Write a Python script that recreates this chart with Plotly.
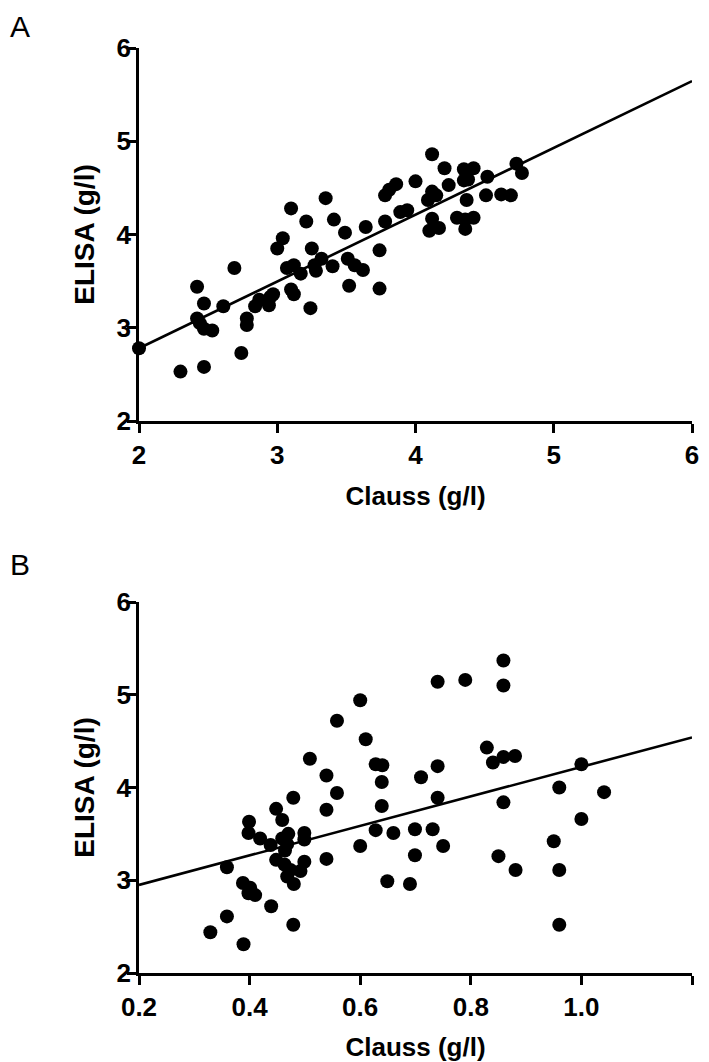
import plotly.graph_objects as go

# Panel A data (Clauss vs ELISA, g/l)
a_clauss = [2.00, 2.30, 2.47, 2.74, 2.42, 2.47, 2.61, 2.42, 2.44, 2.47, 2.53, 2.69, 2.78, 2.78,
            2.84, 2.87, 2.95, 2.94, 2.97, 3.00, 3.04, 3.10, 3.35, 3.21, 3.41, 3.49, 3.25, 3.07,
            3.12, 3.17, 3.27, 3.32, 3.28, 3.40, 3.51, 3.56, 3.62, 3.52, 3.10, 3.12, 3.24, 3.74,
            3.74, 3.64, 3.78, 3.78, 3.81, 3.86, 4.00, 3.89, 3.94, 4.12, 4.21, 4.35, 4.42, 4.73,
            4.77, 4.52, 4.35, 4.38, 4.24, 4.12, 4.15, 4.09, 4.37, 4.51, 4.62, 4.69, 4.12, 4.10,
            4.17, 4.30, 4.36, 4.42, 4.36]
a_elisa = [2.78, 2.53, 2.58, 2.73, 3.44, 3.26, 3.23, 3.10, 3.05, 2.99, 2.97, 3.64, 3.10, 3.03,
           3.23, 3.30, 3.33, 3.24, 3.36, 3.85, 3.96, 4.28, 4.39, 4.14, 4.16, 4.02, 3.85, 3.64,
           3.67, 3.58, 3.67, 3.74, 3.61, 3.66, 3.74, 3.67, 3.62, 3.45, 3.41, 3.36, 3.21, 3.42,
           3.83, 4.08, 4.14, 4.42, 4.48, 4.54, 4.57, 4.24, 4.26, 4.86, 4.71, 4.70, 4.71, 4.76,
           4.66, 4.62, 4.58, 4.59, 4.53, 4.46, 4.42, 4.37, 4.37, 4.42, 4.43, 4.42, 4.17, 4.04,
           4.07, 4.18, 4.16, 4.18, 4.06]
a_fit_x = [2.0, 6.0]
a_fit_y = [2.78, 5.645]

# Panel B data
b_clauss = [0.600, 0.558, 0.610, 0.628, 0.640, 0.509, 0.539, 0.639, 0.558, 0.479, 0.448, 0.459,
            0.539, 0.639, 0.399, 0.398, 0.419, 0.438, 0.459, 0.470, 0.468, 0.464, 0.499, 0.499,
            0.628, 0.660, 0.600, 0.539, 0.359, 0.448, 0.463, 0.474, 0.499, 0.492, 0.468, 0.480,
            0.388, 0.401, 0.410, 0.398, 0.439, 0.649, 0.359, 0.329, 0.479, 0.389, 0.859, 0.740,
            0.790, 0.859, 0.829, 0.840, 0.859, 0.880, 0.740, 0.710, 1.000, 0.740, 0.960, 1.041,
            0.859, 1.000, 0.699, 0.731, 0.750, 0.699, 0.850, 0.950, 0.881, 0.960, 0.690, 0.960]
b_elisa = [4.94, 4.72, 4.52, 4.25, 4.24, 4.31, 4.13, 4.06, 3.94, 3.89, 3.77, 3.65,
           3.76, 3.80, 3.63, 3.51, 3.45, 3.38, 3.45, 3.50, 3.39, 3.32, 3.51, 3.44,
           3.54, 3.51, 3.37, 3.23, 3.14, 3.22, 3.17, 3.11, 3.20, 3.10, 3.04, 2.96,
           2.97, 2.92, 2.84, 2.86, 2.72, 2.99, 2.61, 2.44, 2.52, 2.31, 5.37, 5.14,
           5.16, 5.10, 4.43, 4.27, 4.33, 4.34, 4.23, 4.11, 4.25, 3.89, 4.00, 3.95,
           3.84, 3.66, 3.55, 3.55, 3.37, 3.27, 3.26, 3.42, 3.11, 3.11, 2.96, 2.52]
b_fit_x = [0.2, 1.2]
b_fit_y = [2.95, 4.54]

a_ticks_x = [2, 3, 4, 5, 6]
a_ticks_y = [2, 3, 4, 5, 6]
b_ticks_x = [0.2, 0.4, 0.6, 0.8, 1.0, 1.2]
b_ticks_x_text = ["0.2", "0.4", "0.6", "0.8", "1.0", "1.2"]
b_ticks_y = [2, 3, 4, 5, 6]

# the page body adds an 8 px margin; the figure is sized to fill the rest of the window
OFF = 8
W, H = 709 - OFF, 1062 - OFF
FONT = "Liberation Sans, Arial, sans-serif"


def px_x(p):
    return (p - OFF) / W


def px_y(p):
    return 1 - (p - OFF) / H


fig = go.Figure()
marker = dict(color="black", size=14, line=dict(width=0))
fig.add_trace(go.Scatter(x=a_fit_x, y=a_fit_y, mode="lines", line=dict(color="black", width=2.6),
                         xaxis="x", yaxis="y", showlegend=False, cliponaxis=False))
fig.add_trace(go.Scatter(x=a_clauss, y=a_elisa, mode="markers", marker=marker,
                         xaxis="x", yaxis="y", showlegend=False, cliponaxis=False))
fig.add_trace(go.Scatter(x=b_fit_x, y=b_fit_y, mode="lines", line=dict(color="black", width=2.6),
                         xaxis="x2", yaxis="y2", showlegend=False, cliponaxis=False))
fig.add_trace(go.Scatter(x=b_clauss, y=b_elisa, mode="markers", marker=marker,
                         xaxis="x2", yaxis="y2", showlegend=False, cliponaxis=False))

xdom = [px_x(139), px_x(692)]
ya_dom = [px_y(421), px_y(48)]
yb_dom = [px_y(973), px_y(602)]

tickfont = dict(family=FONT, size=26, color="black", weight="bold")
xtitlefont = dict(family=FONT, size=26, color="black", weight="bold")
ytitlefont = dict(family=FONT, size=28, color="black", weight="bold")
common = dict(showline=True, linecolor="black", linewidth=2.7, ticks="outside", ticklen=9,
              tickwidth=2.7, tickcolor="black", showgrid=False, zeroline=False,
              tickfont=tickfont, mirror=False, fixedrange=True, automargin=False)
xcommon = dict(title_font=xtitlefont, **common)
ycommon = dict(title_font=ytitlefont, ticklabelstandoff=-9, **common)

fig.update_layout(
    template="none",
    width=W, height=H, autosize=False,
    margin=dict(l=0, r=0, t=0, b=0),
    paper_bgcolor="white", plot_bgcolor="white",
    xaxis=dict(domain=xdom, range=[2, 6], tickvals=a_ticks_x, anchor="y",
               title=dict(text="Clauss (g/l)", standoff=18), **xcommon),
    yaxis=dict(domain=ya_dom, range=[2, 6], tickvals=a_ticks_y, anchor="x",
               title=dict(text="ELISA (g/l)", standoff=14), **ycommon),
    xaxis2=dict(domain=xdom, range=[0.2, 1.2], tickvals=b_ticks_x, ticktext=b_ticks_x_text, anchor="y2",
                title=dict(text="Clauss (g/l)", standoff=18), **xcommon),
    yaxis2=dict(domain=yb_dom, range=[2, 6], tickvals=b_ticks_y, anchor="x2",
                title=dict(text="ELISA (g/l)", standoff=14), **ycommon),
    annotations=[
        dict(text="A", x=px_x(OFF), y=1, xref="paper", yref="paper", xanchor="left", yanchor="top",
             showarrow=False, font=dict(family=FONT, size=30, color="black")),
        dict(text="B", x=px_x(OFF), y=px_y(564), xref="paper", yref="paper", xanchor="left", yanchor="middle",
             showarrow=False, font=dict(family=FONT, size=30, color="black")),
    ],
)

fig.write_html("out.html")
